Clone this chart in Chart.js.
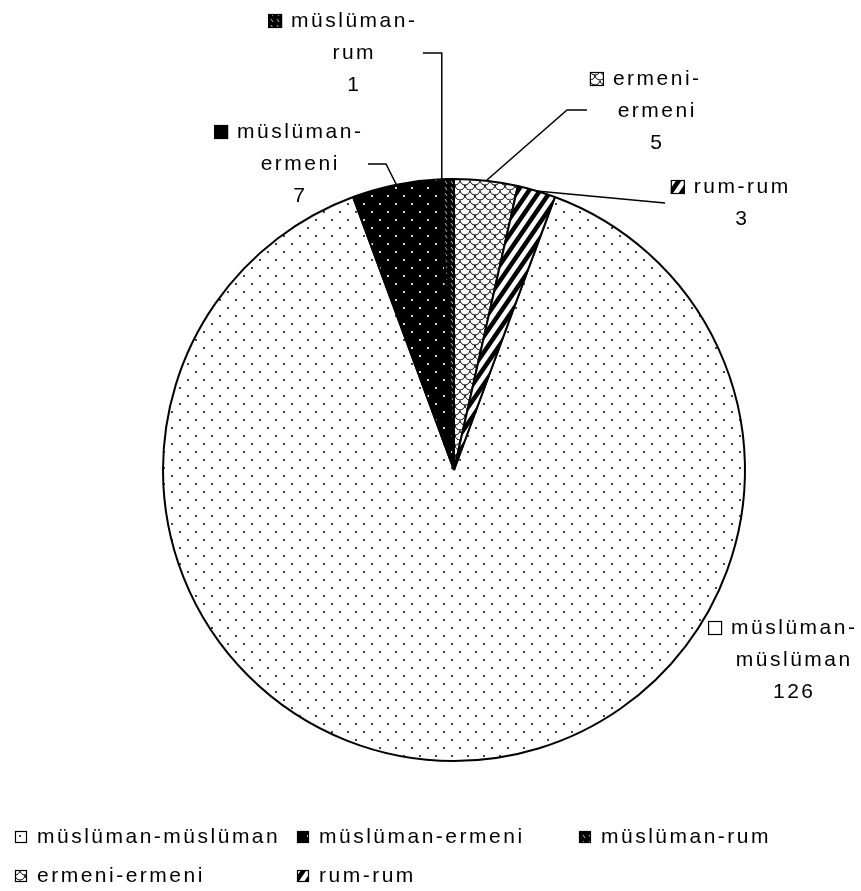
<!DOCTYPE html>
<html><head><meta charset="utf-8">
<script src="https://cdn.jsdelivr.net/npm/chart.js@4/dist/chart.umd.min.js"></script>
<style>html,body{margin:0;padding:0;background:#fff;overflow:hidden}#wrap{width:861px;height:891px}</style>
</head><body><div id="wrap"><canvas id="c" width="861" height="891"></canvas></div>
<script>
// ---- data ----
const categories = ["müslüman-müslüman", "müslüman-ermeni", "müslüman-rum", "ermeni-ermeni", "rum-rum"];
const values = [126, 7, 1, 5, 3];
const legendRows = [[0, 1, 2], [3, 4]];

const total = values.reduce((a, b) => a + b, 0);

// ---- patterns ----
function makePattern(w, h, draw) {
  const c = document.createElement('canvas');
  c.width = w; c.height = h;
  const g = c.getContext('2d');
  draw(g, w, h);
  return g.createPattern(c, 'repeat');
}
const patDotsLight = makePattern(16, 16, (g) => {
  g.fillStyle = '#fff'; g.fillRect(0, 0, 16, 16);
  g.fillStyle = '#444'; g.fillRect(3, 3, 2, 2); g.fillRect(11, 11, 2, 2);
});
const patDotsDark = makePattern(16, 16, (g) => {
  g.fillStyle = '#000'; g.fillRect(0, 0, 16, 16);
  g.fillStyle = '#ddd'; g.fillRect(3, 3, 2, 2); g.fillRect(11, 11, 2, 2);
});
const patDashDark = makePattern(6, 6, (g) => {
  g.fillStyle = '#000'; g.fillRect(0, 0, 6, 6);
  g.strokeStyle = '#bbb'; g.lineWidth = 1;
  g.beginPath(); g.moveTo(1, 1); g.lineTo(3, 4); g.stroke();
});
const patScales = makePattern(10, 10, (g) => {
  g.fillStyle = '#fff'; g.fillRect(0, 0, 10, 10);
  g.strokeStyle = '#000'; g.lineWidth = 1;
  g.beginPath(); g.arc(5, 0, 5, 0, Math.PI); g.stroke();
  g.beginPath(); g.arc(0, 5, 5, 0, Math.PI); g.stroke();
  g.beginPath(); g.arc(10, 5, 5, 0, Math.PI); g.stroke();
});
const patStripes = makePattern(11, 16, (g, w, h) => {
  g.fillStyle = '#fff'; g.fillRect(0, 0, w, h);
  g.strokeStyle = '#000'; g.lineWidth = 4.5;
  for (let n = -1; n <= 3; n++) {
    g.beginPath();
    g.moveTo(n * w + w, -h);
    g.lineTo(n * w - 2 * w, 2 * h);
    g.stroke();
  }
});
const patterns = [patDotsLight, patDotsDark, patDashDark, patScales, patStripes];

const FONT = '21px "Liberation Sans", Arial, sans-serif';
const LS = 2.5;

// label placement (layout config)
const labelLayout = [
  { cx: 793, y: 628 },
  { cx: 299, y: 132, leader: [[368, 164], [386, 164]], frac: 0.5 },
  { cx: 353, y: 21, leader: [[423, 53]], vertical: 53, frac: 0.05 },
  { cx: 656, y: 79, leader: [[587, 110], [567, 110]], frac: 0.5 },
  { cx: 741, y: 187, leader: [[665, 203]], frac: 0.5 }
];
const LINE_H = 32;

function wrapLabel(ctx, text) {
  if (ctx.measureText(text).width > 112 && text.indexOf('-') > 0) {
    const i = text.indexOf('-');
    return [text.slice(0, i + 1), text.slice(i + 1)];
  }
  return [text];
}

function drawSwatch(ctx, x, y, s, pat) {
  ctx.save();
  ctx.fillStyle = pat;
  ctx.fillRect(x, y, s, s);
  ctx.strokeStyle = '#000'; ctx.lineWidth = 1.2;
  ctx.strokeRect(x + 0.5, y + 0.5, s - 1, s - 1);
  ctx.restore();
}

const labelsPlugin = {
  id: 'pieLabels',
  afterDatasetsDraw(chart) {
    const ctx = chart.ctx;
    const meta = chart.getDatasetMeta(0);
    ctx.save();
    ctx.font = FONT;
    ctx.letterSpacing = LS + 'px';
    ctx.fillStyle = '#000';
    ctx.textBaseline = 'middle';
    meta.data.forEach((arc, i) => {
      const p = arc.getProps(['x', 'y', 'startAngle', 'endAngle', 'outerRadius'], true);
      const L = labelLayout[i];
      if (L.leader) {
        const a = p.startAngle + (p.endAngle - p.startAngle) * L.frac;
        const ax = p.x + Math.cos(a) * p.outerRadius;
        const ay = p.y + Math.sin(a) * p.outerRadius;
        ctx.beginPath();
        ctx.strokeStyle = '#000'; ctx.lineWidth = 1.5;
        ctx.moveTo(L.leader[0][0], L.leader[0][1]);
        for (let k = 1; k < L.leader.length; k++) ctx.lineTo(L.leader[k][0], L.leader[k][1]);
        if (L.vertical !== undefined) ctx.lineTo(ax, L.vertical);
        ctx.lineTo(ax, ay);
        ctx.stroke();
      }
      const lines = wrapLabel(ctx, categories[i]).concat([String(values[i])]);
      ctx.textAlign = 'center';
      lines.forEach((t, k) => {
        ctx.fillText(t, L.cx + LS / 2, L.y + k * LINE_H);
      });
      const w0 = ctx.measureText(lines[0]).width - LS;
      drawSwatch(ctx, L.cx - w0 / 2 - 9 - 14, L.y - 7, 14, patterns[i]);
    });
    // legend
    const colX = [15, 297, 579];
    const rowY = [837, 876];
    ctx.textAlign = 'left';
    legendRows.forEach((row, r) => {
      row.forEach((idx, c) => {
        drawSwatch(ctx, colX[c], rowY[r] - 6, 12, patterns[idx]);
        ctx.fillText(categories[idx], colX[c] + 22, rowY[r]);
      });
    });
    ctx.restore();
  }
};

new Chart(document.getElementById('c'), {
  type: 'pie',
  data: {
    labels: categories,
    datasets: [{
      data: values,
      backgroundColor: patterns,
      borderColor: '#000',
      borderWidth: 2
    }]
  },
  options: {
    responsive: false,
    animation: false,
    rotation: 360 * (values[3] + values[4]) / total,
    layout: { padding: { left: 162, right: 115, top: 178, bottom: 129 } },
    plugins: { legend: { display: false }, tooltip: { enabled: false } },
    events: []
  },
  plugins: [labelsPlugin]
});
</script>
</body></html>
